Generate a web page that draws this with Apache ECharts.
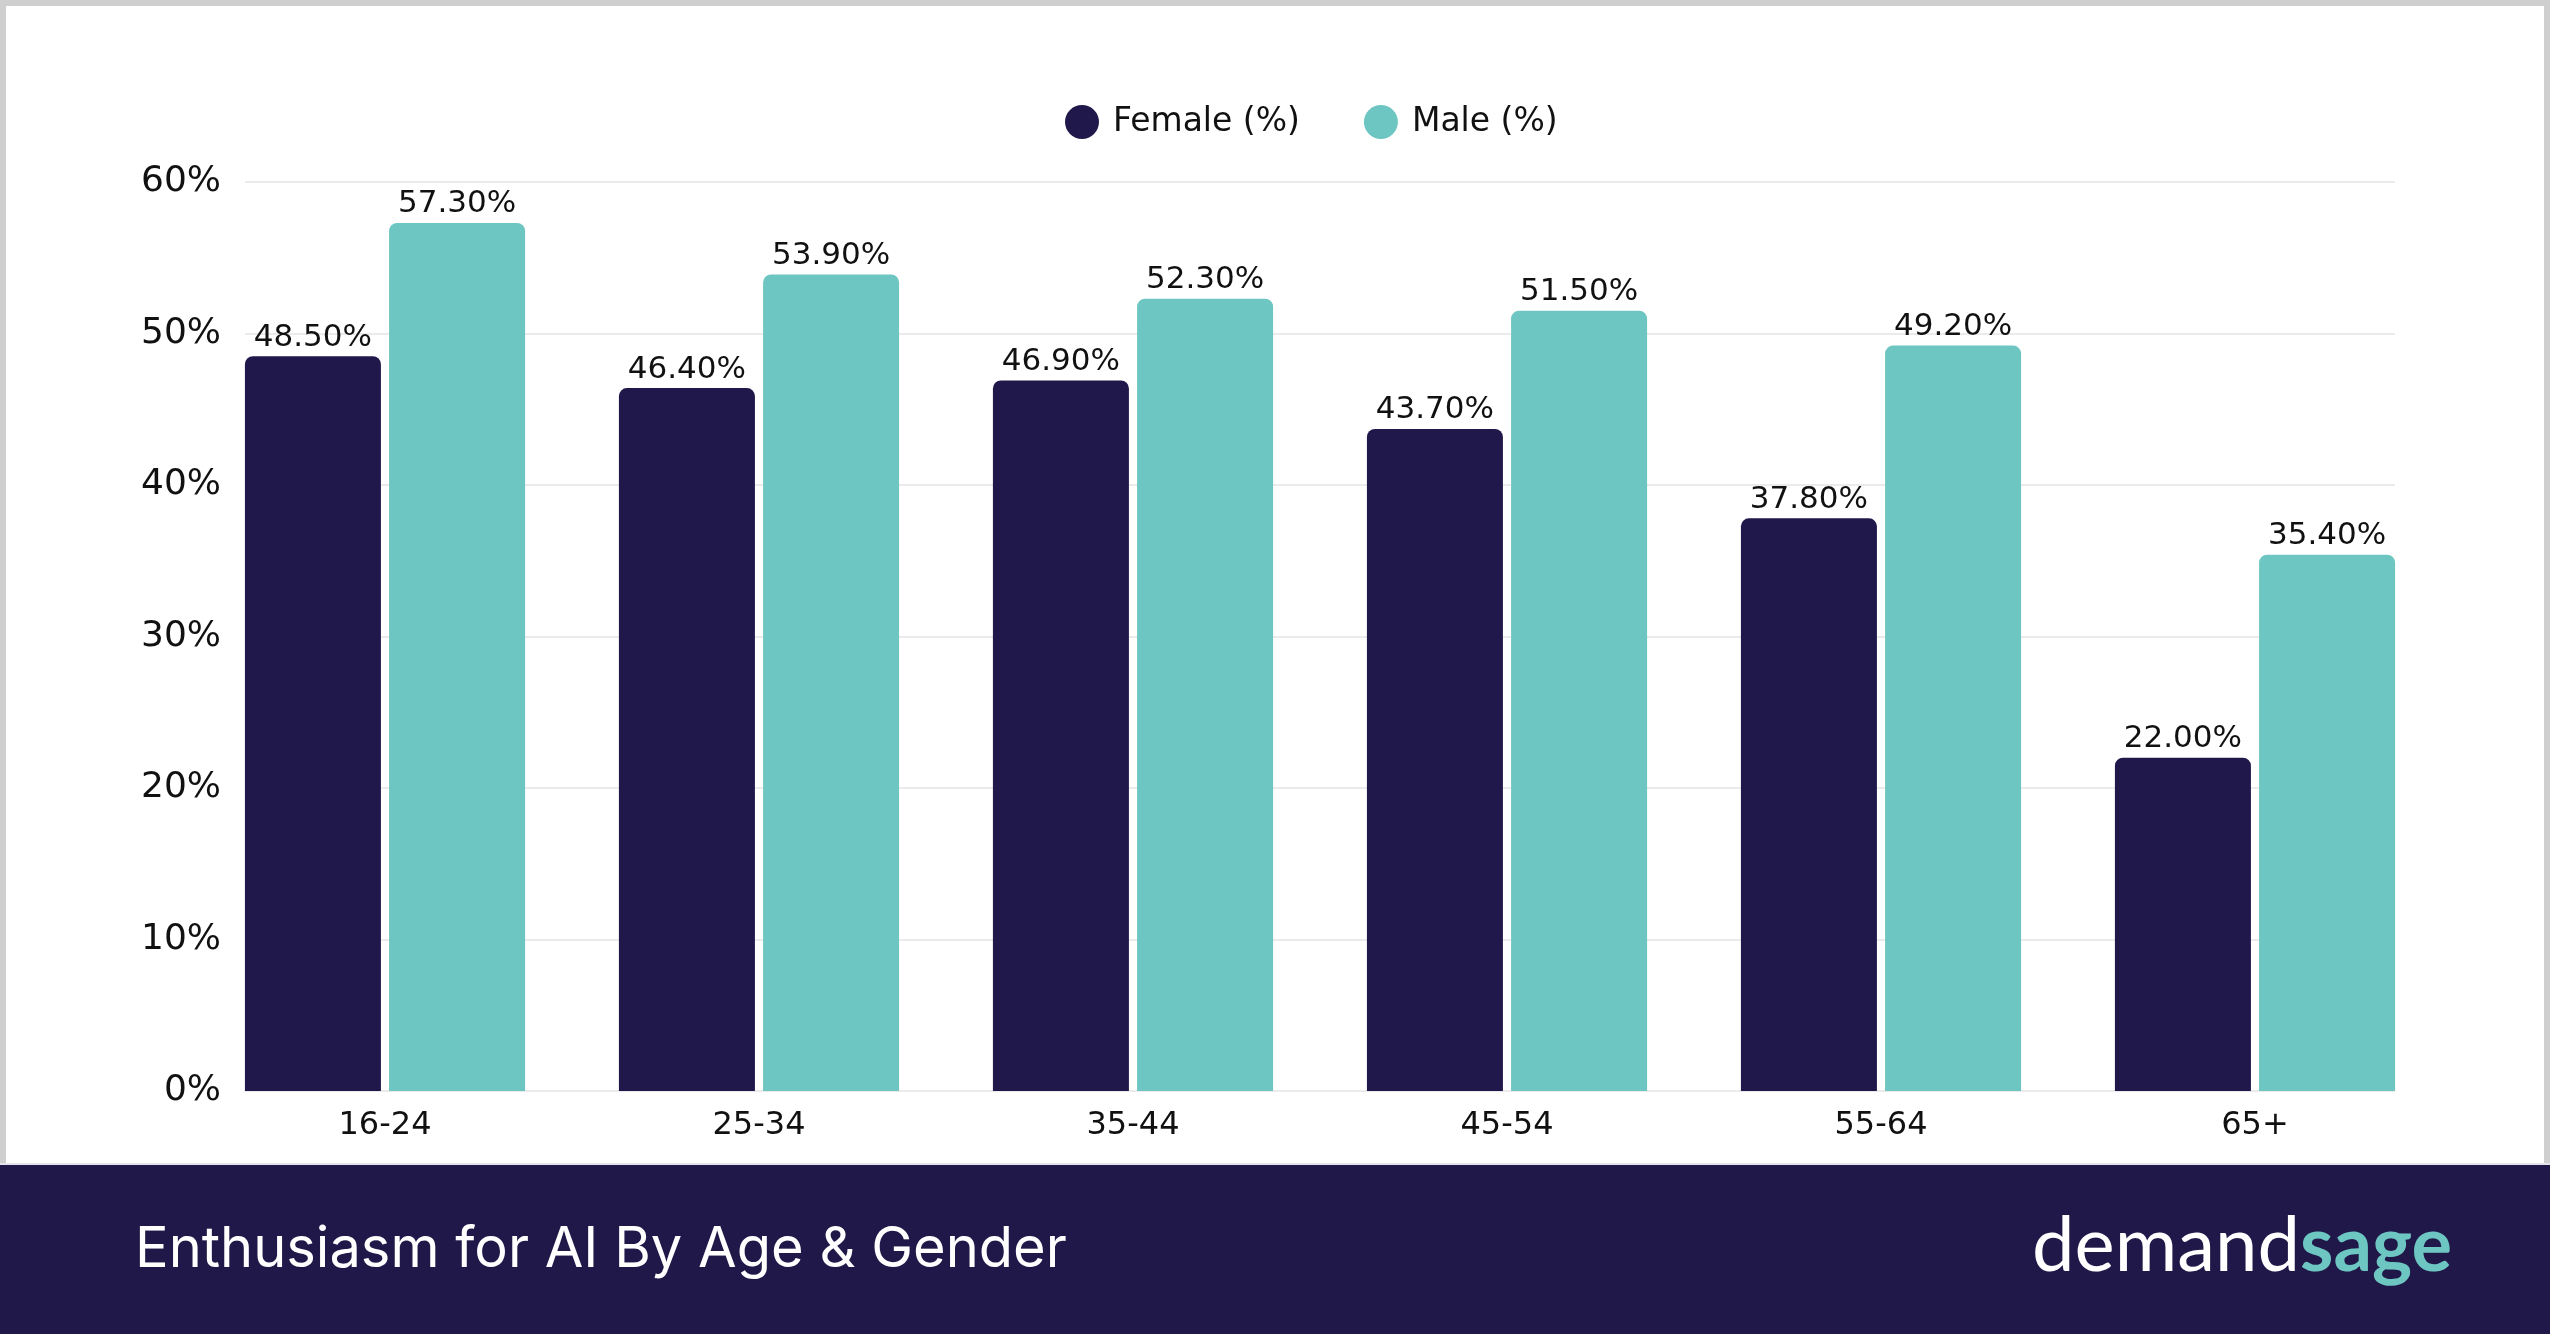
<!DOCTYPE html>
<html>
<head>
<meta charset="utf-8">
<script src="https://cdn.jsdelivr.net/npm/echarts@6/dist/echarts.min.js"></script>
<style>
  html, body { margin: 0; padding: 0; }
  .page { position: relative; width: 2550px; height: 1334px; background: #cfcfcf; }
  .card { position: absolute; left: 6px; top: 6px; width: 2538px; height: 1157px; background: #fff; }
  .band { position: absolute; left: 0; top: 1163px; width: 2550px; height: 171px; background: #201848; border-top: 2px solid #e4e4ea; box-sizing: border-box; }
  #chart { position: absolute; left: 0; top: 0; width: 2550px; height: 1334px; }
</style>
</head>
<body>
<div class="page">
  <div class="card"></div>
  <div class="band"></div>
  <div id="chart"></div>
</div>
<script>
// age groups
var ageGroups = ['16-24', '25-34', '35-44', '45-54', '55-64', '65+']
// values in %
var femaleValues = [48.5, 46.4, 46.9, 43.7, 37.8, 22.0]
var maleValues = [57.3, 53.9, 52.3, 51.5, 49.2, 35.4]
var yTicks = { min: 0, max: 60, interval: 10 }

var navy = '#20184a'
var teal = '#6dc6c1'
var font = 'DejaVu Sans'

var myChart = echarts.init(document.getElementById('chart'))

var barLabel = {
  show: true,
  position: 'top',
  distance: 3,
  color: '#111',
  fontFamily: font,
  fontSize: 31,
  formatter: function(p) {
    return p.value.toFixed(2) + '%'
  }
}

var option = {
  backgroundColor: 'transparent',
  animation: false,
  legend: {
    data: ['Female (%)', 'Male (%)'],
    left: 1060,
    top: 100,
    icon: 'circle',
    itemWidth: 52,
    itemHeight: 34,
    itemGap: 64,
    textStyle: { color: '#111', fontFamily: font, fontSize: 33 }
  },
  grid: [
    // bars
    { left: 198, right: 108, top: 182, bottom: 243 },
    // grid lines + y labels
    { left: 245, right: 155, top: 182, bottom: 243 }
  ],
  xAxis: [
    {
      type: 'category',
      gridIndex: 0,
      data: ageGroups,
      axisLine: { show: false },
      axisTick: { show: false },
      axisLabel: { color: '#111', fontFamily: font, fontSize: 32, margin: 19 }
    },
    { type: 'value', gridIndex: 1, min: 0, max: 1, show: false }
  ],
  yAxis: [
    { type: 'value', gridIndex: 0, min: yTicks.min, max: yTicks.max, interval: yTicks.interval, show: false },
    {
      type: 'value',
      gridIndex: 1,
      min: yTicks.min,
      max: yTicks.max,
      interval: yTicks.interval,
      axisLine: { show: false },
      axisTick: { show: false },
      splitLine: { lineStyle: { color: '#ebebeb', width: 2 } },
      axisLabel: { color: '#111', fontFamily: font, fontSize: 36, margin: 24, formatter: '{value}%' }
    }
  ],
  series: [
    {
      name: 'Female (%)',
      type: 'bar',
      xAxisIndex: 0,
      yAxisIndex: 0,
      barWidth: 136,
      barGap: '6%',
      itemStyle: { color: navy, borderRadius: [8, 8, 0, 0] },
      label: barLabel,
      data: femaleValues,
      z: 3
    },
    {
      name: 'Male (%)',
      type: 'bar',
      xAxisIndex: 0,
      yAxisIndex: 0,
      barWidth: 136,
      barGap: '6%',
      itemStyle: { color: teal, borderRadius: [8, 8, 0, 0] },
      label: barLabel,
      data: maleValues,
      z: 3
    }
  ],
  graphic: [
    {
      type: 'text',
      x: 135,
      y: 1250,
      style: {
        text: 'Enthusiasm for AI By Age & Gender',
        fill: '#fff',
        font: '56px Inter',
        verticalAlign: 'middle'
      }
    },
    {
      type: 'text',
      x: 2452,
      y: 1246,
      style: {
        text: '{a|demand}{b|sage}',
        align: 'right',
        verticalAlign: 'middle',
        rich: {
          a: { fill: '#fff', fontFamily: 'Lato', fontSize: 76, fontWeight: 'normal' },
          b: { fill: teal, fontFamily: 'Lato', fontSize: 76, fontWeight: 'bold' }
        }
      }
    }
  ]
}
myChart.setOption(option, true)
</script>
</body>
</html>
